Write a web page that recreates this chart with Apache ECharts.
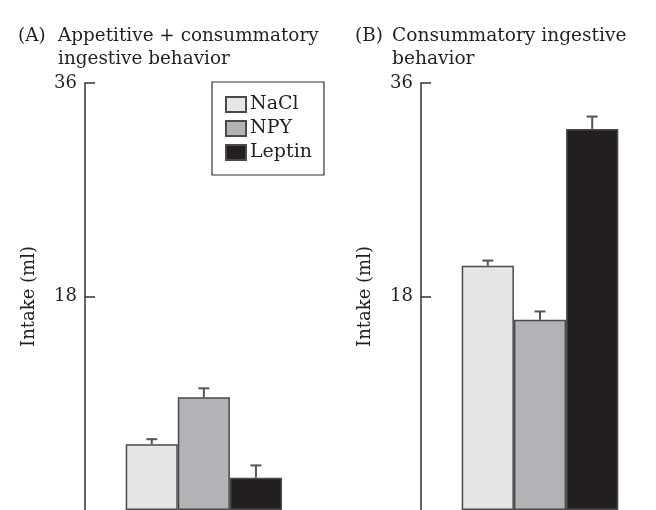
<!DOCTYPE html>
<html><head><meta charset="utf-8">
<script src="https://cdn.jsdelivr.net/npm/echarts@6/dist/echarts.min.js"></script>
<style>html,body{margin:0;padding:0;background:#fff}#c{width:656px;height:510px}</style>
</head><body><div id="c"></div>
<script>
const groups = ['NaCl', 'NPY', 'Leptin'];
const colors = ['#e5e6e8', '#b1b3b6', '#231f20'];
const panelA = [5.55, 9.5, 2.72];
const panelAErr = [0.42, 0.76, 1.04];
const panelB = [20.6, 16.04, 32.13];
const panelBErr = [0.43, 0.7, 1.04];
const yTicks = [18, 36];
const yMax = 36;

const FONT = '"DejaVu Serif", serif';
const chart = echarts.init(document.getElementById('c'));

function barSeries(vals, gi) {
  return groups.map((g, i) => ({
    type: 'bar', name: g, xAxisIndex: gi, yAxisIndex: gi, stack: 'p' + gi,
    barCategoryGap: '0%',
    data: vals.map((v, j) => j === i ? v : '-'),
    itemStyle: { color: colors[i], borderColor: '#4a4a4a', borderWidth: 1.5 },
    silent: true
  }));
}
function errSeries(vals, errs, gi) {
  return {
    type: 'custom', xAxisIndex: gi, yAxisIndex: gi, silent: true, z: 1,
    data: vals.map((v, i) => [i, v, v + errs[i]]),
    renderItem: (params, api) => {
      const p0 = api.coord([api.value(0), api.value(1)]);
      const p1 = api.coord([api.value(0), api.value(2)]);
      const st = { stroke: '#555', lineWidth: 2 };
      return { type: 'group', children: [
        { type: 'line', shape: { x1: p0[0], y1: p0[1], x2: p1[0], y2: p1[1] }, style: st },
        { type: 'line', shape: { x1: p1[0] - 5.5, y1: p1[1], x2: p1[0] + 5.5, y2: p1[1] }, style: st }
      ]};
    }
  };
}
function yAx(gi, offset) {
  return {
    type: 'value', gridIndex: gi, min: 0, max: yMax, interval: 18, offset: offset,
    name: 'Intake (ml)', nameLocation: 'middle', nameGap: 47, nameRotate: 90,
    nameTextStyle: { fontFamily: FONT, fontSize: 18, color: '#231f20' },
    axisLine: { show: true, lineStyle: { color: '#333', width: 1.5 } },
    axisTick: { show: true, inside: true, length: 10, customValues: yTicks, lineStyle: { color: '#333', width: 1.5 } },
    axisLabel: { fontFamily: FONT, fontSize: 18, color: '#231f20', margin: 8, customValues: yTicks },
    splitLine: { show: false }
  };
}
function xAx(gi) {
  return { type: 'category', gridIndex: gi, data: groups, axisLine: { show: false },
    axisTick: { show: false }, axisLabel: { show: false } };
}
function txt(t, x, y, fs) {
  return { type: 'text', x: x, y: y, style: { text: t, font: fs + 'px ' + FONT, fill: '#231f20', verticalAlign: 'alphabetic' } };
}

chart.setOption({
  animation: false,
  grid: [
    { left: 125.7, width: 156.3, top: 83, height: 428 },
    { left: 461.7, width: 156.6, top: 83, height: 428 }
  ],
  xAxis: [xAx(0), xAx(1)],
  yAxis: [yAx(0, 40.7), yAx(1, 40.7)],
  legend: {
    data: groups, orient: 'vertical', left: 212, top: 82,
    icon: 'rect', itemWidth: 20, itemHeight: 15, itemGap: 5,
    padding: [13, 12, 13, 13],
    borderColor: '#333', borderWidth: 1.2,
    textStyle: { fontFamily: FONT, fontSize: 19, lineHeight: 16, color: '#231f20', padding: [0, 0, 0, -1] },
    selectedMode: false
  },
  graphic: [
    txt('(A)', 18, 27, 18.4), txt('Appetitive + consummatory', 58, 27, 18.4), txt('ingestive behavior', 58, 50, 18.4),
    txt('(B)', 355, 27, 18.4), txt('Consummatory ingestive', 392, 27, 18.6), txt('behavior', 392, 50, 18.6)
  ],
  series: [
    ...barSeries(panelA, 0), errSeries(panelA, panelAErr, 0),
    ...barSeries(panelB, 1), errSeries(panelB, panelBErr, 1)
  ]
});
</script></body></html>
